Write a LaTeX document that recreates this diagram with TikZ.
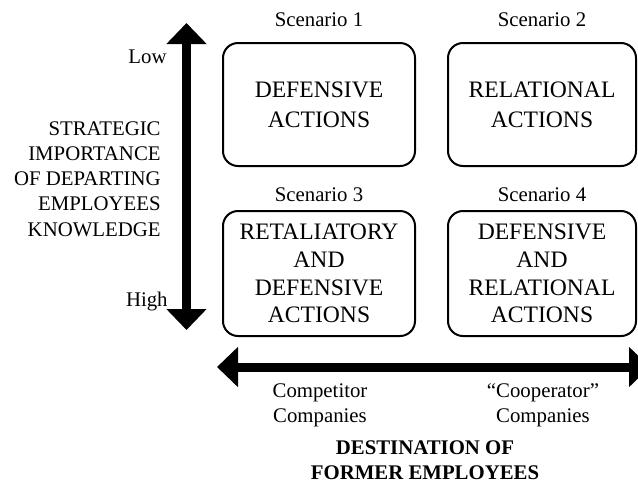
\documentclass[tikz,border=0pt]{standalone}
\usepackage{fontspec}
\setmainfont{Liberation Serif}
\usetikzlibrary{arrows.meta}

\begin{document}
\begin{tikzpicture}[x=0.5pt, y=-0.5pt,
    actbox/.style={draw, line width=1pt, rounded corners=7.5pt, align=center,
      inner sep=0pt, font=\fontsize{11.8}{13.8}\selectfont},
    lbl/.style={inner sep=0pt, align=center, font=\fontsize{10.4}{12.6}\selectfont},
    axis/.style={line width=4.5pt,
      {Triangle[width=19.5pt,length=10.5pt]}-{Triangle[width=19.5pt,length=10.5pt]}}]
      \useasboundingbox (0,0) rectangle (638,489);

      %% scenarios
      \node[actbox, minimum width=96pt, minimum height=61.5pt, font=\fontsize{11.8}{15.2}\selectfont] (defensive) at (319,104.5) {DEFENSIVE\\ACTIONS};
      \node[actbox, minimum width=94pt, minimum height=61.5pt, font=\fontsize{11.8}{15.2}\selectfont] (relational) at (542,104.5) {RELATIONAL\\ACTIONS};
      \node[actbox, minimum width=96pt, minimum height=62.5pt] (retaliatory) at (319,273.5) {RETALIATORY\\AND\\DEFENSIVE\\ACTIONS};
      \node[actbox, minimum width=94pt, minimum height=62.5pt] (defrel) at (542,273.5) {DEFENSIVE\\AND\\RELATIONAL\\ACTIONS};

      \node[lbl] (sc1) at (319,20) {Scenario 1};
      \node[lbl] (sc2) at (542,20) {Scenario 2};
      \node[lbl] (sc3) at (319,195) {Scenario 3};
      \node[lbl] (sc4) at (542,195) {Scenario 4};

      %% axes
      \coordinate (low) at (186.5,23);
      \coordinate (high) at (186.5,330);
      \coordinate (comp) at (217,367);
      \coordinate (coop) at (650,367);
      \draw[axis] (low) -- (high);
      \draw[axis] (comp) -- (coop);

      \node[lbl, anchor=east] (lowlbl) at (167,57) {Low};
      \node[lbl, anchor=east] (highlbl) at (168,302) {High};
      \node[lbl, anchor=east, align=right] (importance) at (161,179)
        {STRATEGIC\\IMPORTANCE\\OF DEPARTING\\EMPLOYEES\\KNOWLEDGE};

      \node[lbl] (competitor) at (320,405) {Competitor\\Companies};
      \node[lbl] (cooperator) at (543,405) {``Cooperator''\\Companies};
      \node[lbl, font=\fontsize{10.4}{12.6}\selectfont\bfseries] (destination) at (425,460)
        {DESTINATION OF\\FORMER EMPLOYEES};

    \end{tikzpicture}
\end{document}
